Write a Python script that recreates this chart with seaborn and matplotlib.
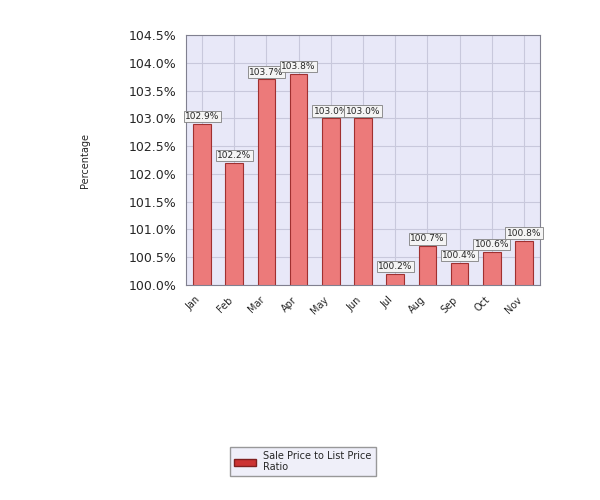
import numpy as np
import pandas as pd
import matplotlib
matplotlib.use("Agg")
import matplotlib.pyplot as plt
import seaborn as sns

months = ["Jan", "Feb", "Mar", "Apr", "May", "Jun", "Jul", "Aug", "Sep", "Oct", "Nov"]
ratio = [102.9, 102.2, 103.7, 103.8, 103.0, 103.0, 100.2, 100.7, 100.4, 100.6, 100.8]
yticks = [100.0, 100.5, 101.0, 101.5, 102.0, 102.5, 103.0, 103.5, 104.0, 104.5]

df = pd.DataFrame({"month": months, "ratio": ratio})

sns.set_style("white")
plt.rcParams["font.family"] = ["DejaVu Sans"]

fig = plt.figure(figsize=(6, 5), dpi=100)
fig.patch.set_facecolor("white")
ax = fig.add_axes([0.31, 0.43, 0.59, 0.50])
ax.set_facecolor("#e8e8f8")

sns.barplot(data=df, x="month", y="ratio", ax=ax, color="#ec7a7a",
            edgecolor="#a03030", linewidth=0.8, width=0.55, saturation=1)

ax.set_ylim(100.0, 104.5)
ax.set_yticks(yticks)
ax.set_yticklabels([f"{v:.1f}%" for v in yticks], fontsize=9)
ax.grid(True, color="#c8c8dc", linewidth=0.8)
ax.set_axisbelow(True)
ax.set_xlabel("")
ax.set_ylabel("Percentage", fontsize=7, labelpad=28)
ax.tick_params(axis="x", labelsize=7, rotation=45)
for lbl in ax.get_xticklabels():
    lbl.set_ha("right")
for s in ax.spines.values():
    s.set_color("#808090")

for i, v in enumerate(ratio):
    ax.text(i, v + 0.05, f"{v:.1f}%", ha="center", va="bottom", fontsize=6.5,
            bbox=dict(boxstyle="square,pad=0.15", fc="#f4f4f4", ec="#808080", lw=0.6))

handle = plt.Rectangle((0, 0), 1, 1, fc="#cc3333", ec="#802020")
fig.legend([handle], ["Sale Price to List Price\nRatio"], loc="center",
           bbox_to_anchor=(0.505, 0.077), fontsize=7, frameon=True,
           fancybox=False, edgecolor="#808080", handlelength=2.2,
           borderpad=0.4).get_frame().set_facecolor("#ececf8")

fig.savefig("out.png", dpi=100)
